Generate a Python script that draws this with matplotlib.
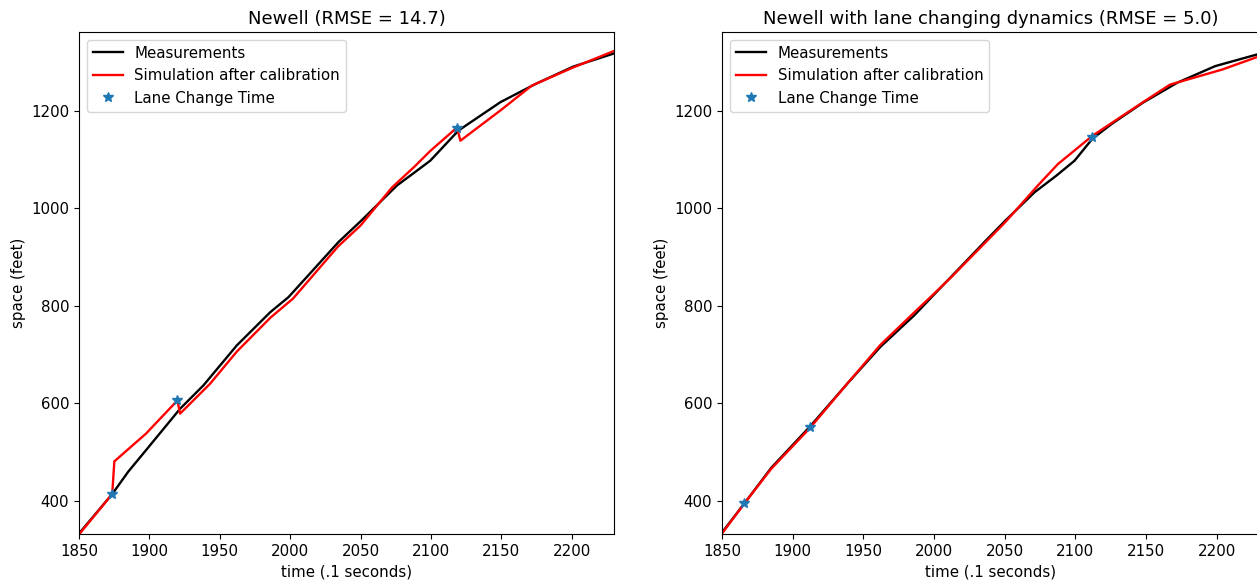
import matplotlib
matplotlib.use("Agg")
import matplotlib.pyplot as plt

# Left panel: Newell
meas_t_left = [1850, 1873.6, 1885, 1897.6, 1921.8, 1938.4, 1962.1, 1985.8, 1998.8, 2009.5, 2034.3,
               2050.5, 2075.8, 2088.4, 2099.5, 2119.6, 2149.3, 2174, 2201, 2230]
meas_s_left = [333, 414, 460, 504, 589, 637, 719, 787, 818, 852, 931,
               975, 1047, 1074, 1098, 1160, 1218, 1255, 1291, 1318]
sim_t_left = [1850, 1873.6, 1875.1, 1897.6, 1919.9, 1921.8, 1943, 1962, 1986, 2002, 2034, 2050,
              2072.3, 2088, 2099.5, 2118.5, 2120.9, 2149.3, 2171.6, 2200, 2230]
sim_s_left = [331, 414, 481, 538, 606, 579, 640, 706, 776, 815, 922, 965,
              1043, 1085, 1118, 1166, 1139, 1201, 1252, 1288, 1323]
lc_t_left = [1873.6, 1919.9, 2118.5]
lc_s_left = [414, 606, 1166]

# Right panel: Newell with lane changing dynamics
meas_t_right = [1850, 1865.9, 1884.9, 1912.4, 1938.5, 1962.1, 1985.8, 1999.3, 2011.9, 2038, 2050.5,
                2071.1, 2086.5, 2099.5, 2112.1, 2125.6, 2147.9, 2172.2, 2199, 2230]
meas_s_right = [335, 395, 468, 553, 640, 716, 780, 821, 859, 938, 975,
                1033, 1067, 1098, 1143, 1173, 1217, 1258, 1292, 1317]
sim_t_right = [1850, 1865.9, 1884.9, 1912.4, 1938.5, 1962.1, 1985.8, 1999.3, 2011.9, 2038, 2050.5,
               2073.5, 2087.7, 2112.1, 2147.9, 2167, 2204, 2230]
sim_s_right = [333, 395, 466, 550, 640, 720, 786, 823, 858, 935, 972,
               1047, 1091, 1149, 1218, 1254, 1285, 1312]
lc_t_right = [1865.9, 1912.4, 2112.1]
lc_s_right = [395, 552, 1146]

titles = ["Newell (RMSE = 14.7)", "Newell with lane changing dynamics (RMSE = 5.0)"]

plt.rcParams['font.family'] = ['DejaVu Sans']
plt.rcParams['font.size'] = 10.8

W, H = 1257, 584
fig = plt.figure(figsize=(W / 100, H / 100), dpi=100)
ax1 = fig.add_axes([79 / W, (H - 534) / H, 535 / W, 502 / H])
ax2 = fig.add_axes([722 / W, (H - 534) / H, 537 / W, 502 / H])

panels = [
    (ax1, meas_t_left, meas_s_left, sim_t_left, sim_s_left, lc_t_left, lc_s_left),
    (ax2, meas_t_right, meas_s_right, sim_t_right, sim_s_right, lc_t_right, lc_s_right),
]
for (ax, mt, ms, st, ss, lt, ls), title in zip(panels, titles):
    ax.plot(mt, ms, color='black', lw=1.7, label='Measurements')
    ax.plot(st, ss, color='red', lw=1.7, label='Simulation after calibration')
    ax.plot(lt, ls, '*', color='#1f77b4', markersize=7.5, linestyle='none', label='Lane Change Time')
    ax.set_xlim(1850, 2230)
    ax.set_ylim(332, 1362)
    ax.set_xticks([1850, 1900, 1950, 2000, 2050, 2100, 2150, 2200])
    ax.set_yticks([400, 600, 800, 1000, 1200])
    ax.set_xlabel('time (.1 seconds)')
    ax.set_ylabel('space (feet)')
    ax.set_title(title, fontsize=13)
    ax.legend(loc='upper left')

fig.savefig('out.png', dpi=100)
